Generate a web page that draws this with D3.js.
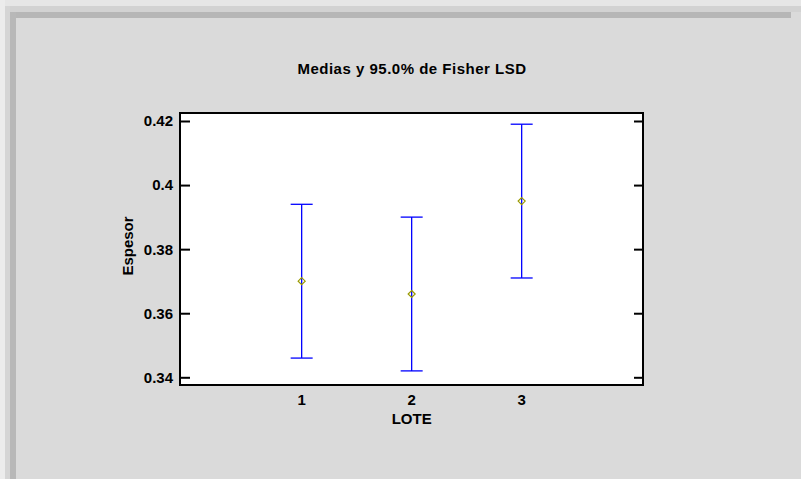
<!DOCTYPE html>
<html>
<head>
<meta charset="utf-8">
<script src="https://cdn.jsdelivr.net/npm/d3@7"></script>
<style>
  body { margin: 0; background: #dadada; }
  svg { display: block; }
  text { font-family: "Liberation Sans", Arial, sans-serif; font-weight: bold; fill: #000; }
</style>
</head>
<body>
<script>
let width = 801;
let height = 479;

// data
let groups = [1, 2, 3];
let means = [0.370, 0.366, 0.395];
let lower = [0.346, 0.342, 0.371];
let upper = [0.394, 0.390, 0.419];
let yTicks = [0.34, 0.36, 0.38, 0.40, 0.42];

let plot = {left: 180, right: 643, top: 113, bottom: 385};

let svg = d3.select('body')
    .append('svg')
    .attr('width', width)
    .attr('height', height);

// background and the shadowed edge
svg.append('rect').attr('width', width).attr('height', height).attr('fill', '#dadada');
svg.append('rect').attr('x', 0).attr('y', 0).attr('width', width).attr('height', 6).attr('fill', '#e6e6e6');
svg.append('rect').attr('x', 0).attr('y', 0).attr('width', 5).attr('height', height).attr('fill', '#ececec');
svg.append('rect').attr('x', 5).attr('y', 6).attr('width', width - 5).attr('height', 6).attr('fill', '#d2d2d2');
svg.append('rect').attr('x', 5).attr('y', 6).attr('width', 5).attr('height', height - 6).attr('fill', '#d5d5d5');
svg.append('rect').attr('x', 10).attr('y', 12).attr('width', width - 20).attr('height', 6).attr('fill', '#b6b6b6');
svg.append('rect').attr('x', 10).attr('y', 12).attr('width', 6).attr('height', height - 12).attr('fill', '#b8b8b8');

let x = d3.scaleLinear()
    .domain([-0.106, 4.103])
    .range([plot.left, plot.right]);

let y = d3.scaleLinear()
    .domain([0.34, 0.42])
    .range([377.3, 121]);

svg.append('rect')
    .attr('x', plot.left).attr('y', plot.top)
    .attr('width', plot.right - plot.left).attr('height', plot.bottom - plot.top)
    .attr('fill', '#fff')
    .attr('stroke', '#000')
    .attr('stroke-width', 2);

// ticks inside the frame on both sides
svg.append('g')
    .attr('transform', `translate(${plot.left},0)`)
    .call(d3.axisRight(y).tickValues(yTicks).tickSize(10).tickFormat(''))
    .call(g => g.select('.domain').remove())
    .call(g => g.selectAll('line').attr('stroke-width', 2));

svg.append('g')
    .attr('transform', `translate(${plot.right},0)`)
    .call(d3.axisLeft(y).tickValues(yTicks).tickSize(9).tickFormat(''))
    .call(g => g.select('.domain').remove())
    .call(g => g.selectAll('line').attr('stroke-width', 2));

svg.append('g')
  .selectAll('text')
    .data(yTicks)
  .enter().append('text')
    .attr('x', 173)
    .attr('y', d => y(d))
    .attr('dy', '0.36em')
    .attr('text-anchor', 'end')
    .attr('font-size', 15)
    .text(d => +d.toFixed(2));

svg.append('g')
  .selectAll('text')
    .data(groups)
  .enter().append('text')
    .attr('x', d => x(d))
    .attr('y', 405)
    .attr('text-anchor', 'middle')
    .attr('font-size', 15)
    .text(d => d);

svg.append('text')
    .attr('x', x(2))
    .attr('y', 424)
    .attr('text-anchor', 'middle')
    .attr('font-size', 15)
    .text('LOTE');

svg.append('text')
    .attr('transform', 'translate(133,246) rotate(-90)')
    .attr('text-anchor', 'middle')
    .attr('font-size', 15)
    .text('Espesor');

svg.append('text')
    .attr('x', 412)
    .attr('y', 74)
    .attr('text-anchor', 'middle')
    .attr('font-size', 15)
    .attr('letter-spacing', 0.5)
    .text('Medias y 95.0% de Fisher LSD');

// error bars
let bars = svg.append('g')
  .selectAll('g')
    .data(groups)
  .enter().append('g')
    .attr('stroke', '#0000ff')
    .attr('stroke-width', 1.3);

bars.append('line')
    .attr('x1', d => x(d)).attr('x2', d => x(d))
    .attr('y1', (d, i) => y(lower[i])).attr('y2', (d, i) => y(upper[i]));

bars.append('line')
    .attr('x1', d => x(d) - 11).attr('x2', d => x(d) + 11)
    .attr('y1', (d, i) => y(upper[i])).attr('y2', (d, i) => y(upper[i]));

bars.append('line')
    .attr('x1', d => x(d) - 11).attr('x2', d => x(d) + 11)
    .attr('y1', (d, i) => y(lower[i])).attr('y2', (d, i) => y(lower[i]));

// mean markers
svg.append('g')
  .selectAll('path')
    .data(groups)
  .enter().append('path')
    .attr('transform', (d, i) => `translate(${x(d)},${y(means[i])})`)
    .attr('d', 'M0,-3.5L3.5,0L0,3.5L-3.5,0Z')
    .attr('fill', 'none')
    .attr('stroke', '#9a9a00')
    .attr('stroke-width', 1.2);
</script>
</body>
</html>
